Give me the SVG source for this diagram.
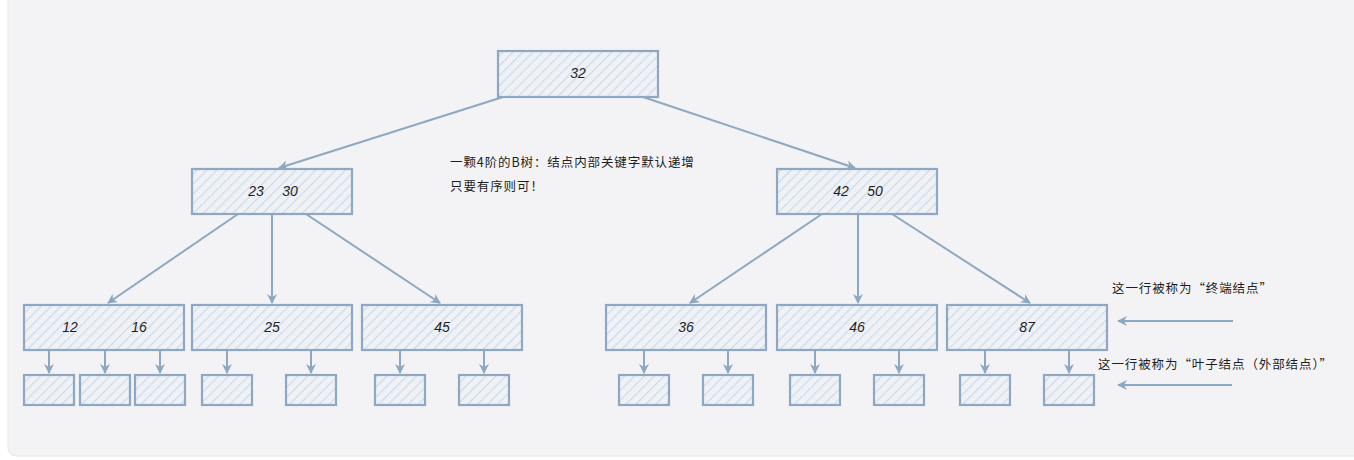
<svg xmlns="http://www.w3.org/2000/svg" width="1354" height="460" viewBox="0 0 1354 460">
<defs>
<pattern id="hatch" patternUnits="userSpaceOnUse" width="7" height="7" patternTransform="rotate(45)">
<rect width="7" height="7" fill="#eef1f6"/>
<line x1="0" y1="0" x2="0" y2="7" stroke="#cdd9e6" stroke-width="2.2"/>
</pattern>
<marker id="ah" viewBox="0 0 10 10" refX="9" refY="5" markerWidth="10" markerHeight="10" markerUnits="userSpaceOnUse" orient="auto">
<path d="M0,0 L10,5 L0,10 L3,5 Z" fill="#8ea7c2"/>
</marker>
</defs>
<style>
.n{fill:url(#hatch);stroke:#8ea7c2;stroke-width:2.2}
.e{stroke:#8ea7c2;stroke-width:2;fill:none;marker-end:url(#ah)}
.k{font-family:"Liberation Sans",sans-serif;font-style:italic;font-size:14px;fill:#1e1e1e;text-anchor:middle}
.t{font-family:"Noto Sans CJK SC",sans-serif;font-size:12.5px;letter-spacing:0.9px;fill:#1e1e1e}
</style>
<rect width="1354" height="460" fill="#ffffff"/>
<rect x="8" y="-10" width="1360" height="466" rx="8" fill="#f3f3f5" stroke="#e8e8ea" stroke-width="1"/>
<g id="connectors">
<line class="e" x1="503" y1="97" x2="279" y2="168"/>
<line class="e" x1="643" y1="97" x2="855" y2="168"/>
<line class="e" x1="238" y1="214" x2="108" y2="303"/>
<line class="e" x1="272" y1="214" x2="272" y2="303"/>
<line class="e" x1="306" y1="214" x2="440" y2="303"/>
<line class="e" x1="822" y1="214" x2="690" y2="303"/>
<line class="e" x1="858" y1="214" x2="858" y2="303"/>
<line class="e" x1="892" y1="214" x2="1030" y2="303"/>
<line class="e" x1="49" y1="350" x2="49" y2="373"/>
<line class="e" x1="105" y1="350" x2="105" y2="373"/>
<line class="e" x1="160" y1="350" x2="160" y2="373"/>
<line class="e" x1="227" y1="350" x2="227" y2="373"/>
<line class="e" x1="311" y1="350" x2="311" y2="373"/>
<line class="e" x1="400" y1="350" x2="400" y2="373"/>
<line class="e" x1="484" y1="350" x2="484" y2="373"/>
<line class="e" x1="644" y1="350" x2="644" y2="373"/>
<line class="e" x1="728" y1="350" x2="728" y2="373"/>
<line class="e" x1="815" y1="350" x2="815" y2="373"/>
<line class="e" x1="899" y1="350" x2="899" y2="373"/>
<line class="e" x1="985" y1="350" x2="985" y2="373"/>
<line class="e" x1="1069" y1="350" x2="1069" y2="373"/>
<line class="e" x1="1233" y1="321" x2="1118" y2="321"/>
<line class="e" x1="1232" y1="385" x2="1118" y2="385"/>
</g>
<g id="root"><rect class="n" x="498" y="51" width="160" height="46"/><text class="k" x="578" y="78">32</text></g>
<g id="n2330"><rect class="n" x="192" y="169" width="160" height="45"/><text class="k" x="256" y="196">23</text><text class="k" x="290" y="196">30</text></g>
<g id="n4250"><rect class="n" x="777" y="169" width="160" height="45"/><text class="k" x="841" y="196">42</text><text class="k" x="875" y="196">50</text></g>
<g id="n1216"><rect class="n" x="24" y="305" width="160" height="45"/><text class="k" x="70" y="332">12</text><text class="k" x="139" y="332">16</text></g>
<g id="n25"><rect class="n" x="192" y="305" width="160" height="45"/><text class="k" x="272" y="332">25</text></g>
<g id="n45"><rect class="n" x="362" y="305" width="160" height="45"/><text class="k" x="442" y="332">45</text></g>
<g id="n36"><rect class="n" x="606" y="305" width="160" height="45"/><text class="k" x="686" y="332">36</text></g>
<g id="n46"><rect class="n" x="777" y="305" width="160" height="45"/><text class="k" x="857" y="332">46</text></g>
<g id="n87"><rect class="n" x="947" y="305" width="160" height="45"/><text class="k" x="1027" y="332">87</text></g>
<g id="leaves">
<rect class="n" x="24" y="375" width="50" height="30"/>
<rect class="n" x="80" y="375" width="50" height="30"/>
<rect class="n" x="135" y="375" width="50" height="30"/>
<rect class="n" x="202" y="375" width="50" height="30"/>
<rect class="n" x="286" y="375" width="50" height="30"/>
<rect class="n" x="375" y="375" width="50" height="30"/>
<rect class="n" x="459" y="375" width="50" height="30"/>
<rect class="n" x="619" y="375" width="50" height="30"/>
<rect class="n" x="703" y="375" width="50" height="30"/>
<rect class="n" x="790" y="375" width="50" height="30"/>
<rect class="n" x="874" y="375" width="50" height="30"/>
<rect class="n" x="960" y="375" width="50" height="30"/>
<rect class="n" x="1044" y="375" width="50" height="30"/>
</g>
<g id="labels">
<text class="t" x="450" y="167">一颗4阶的B树：结点内部关键字默认递增</text>
<text class="t" x="450" y="191">只要有序则可！</text>
<text class="t" x="1112" y="293">这一行被称为“终端结点”</text>
<text class="t" x="1098" y="369">这一行被称为“叶子结点（外部结点）”</text>
</g>
</svg>
